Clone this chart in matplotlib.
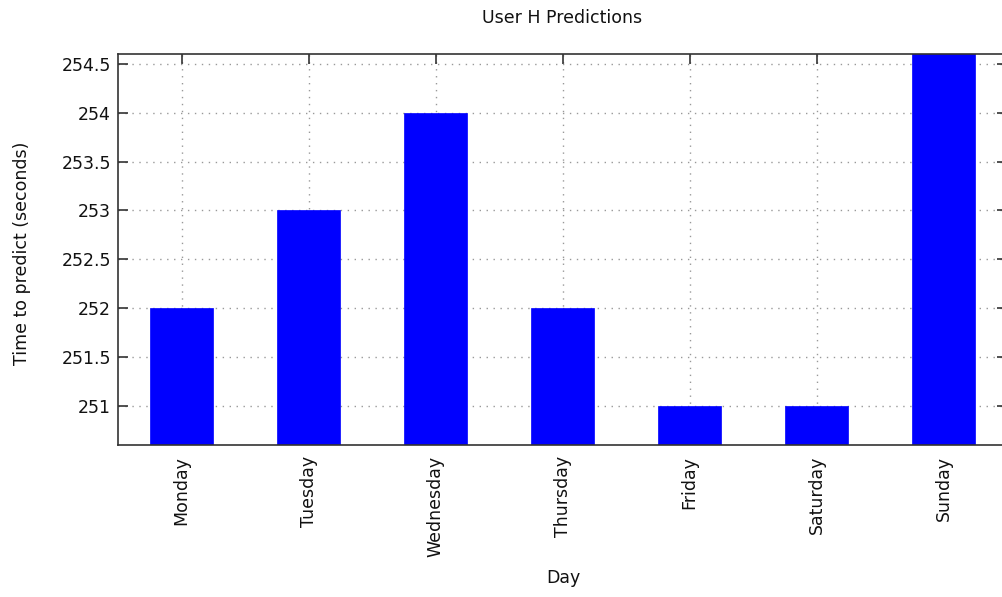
import matplotlib
matplotlib.use("Agg")
import matplotlib.pyplot as plt
from matplotlib.ticker import MultipleLocator, FormatStrFormatter

days = ["Monday", "Tuesday", "Wednesday", "Thursday", "Friday", "Saturday", "Sunday"]
seconds = [252, 253, 254, 252, 251, 251, 255]

plt.rcParams["font.family"] = ["DejaVu Sans"]
plt.rcParams["font.size"] = 12.5

fig = plt.figure(figsize=(10.02, 5.97), dpi=100)
W, H = 1002, 597
left, right, top, bottom = 118, 1007, 54, 445
ax = fig.add_axes([left / W, 1 - bottom / H, (right - left) / W, (bottom - top) / H])

x = list(range(len(days)))
ax.bar(x, seconds, width=0.5, color="#0000ff", edgecolor="#0000ff", linewidth=0.5, zorder=2)
ax.set_xlim(-0.5, 6.5)
ax.set_ylim(250.6, 254.6)

ax.set_xticks(x)
ax.set_xticklabels(days, rotation=90, va="top", ha="center")
ax.yaxis.set_major_locator(MultipleLocator(0.5))
ax.yaxis.set_major_formatter(FormatStrFormatter("%g"))

ax.tick_params(axis="both", direction="in", length=7, width=1.2, color="#333333",
               labelsize=12.5, labelcolor="#111111", top=True, right=True)
ax.tick_params(axis="x", pad=8)
ax.tick_params(axis="y", pad=5)

ax.grid(True, linestyle=(0, (1, 4)), color="#999999", linewidth=1.0, zorder=1)
ax.set_axisbelow(True)
for s in ax.spines.values():
    s.set_linewidth(1.2)
    s.set_color("#333333")

fig.text(22 / W, 1 - 253 / H, "Time to predict (seconds)", rotation=90,
         ha="center", va="center", fontsize=12.5, color="#111111")
fig.text(563 / W, 1 - 578 / H, "Day", ha="center", va="center", fontsize=12.5, color="#111111")
fig.text(562 / W, 1 - 18 / H, "User H Predictions", ha="center", va="center", fontsize=12.5, color="#111111")

fig.savefig("out.png", dpi=100)
